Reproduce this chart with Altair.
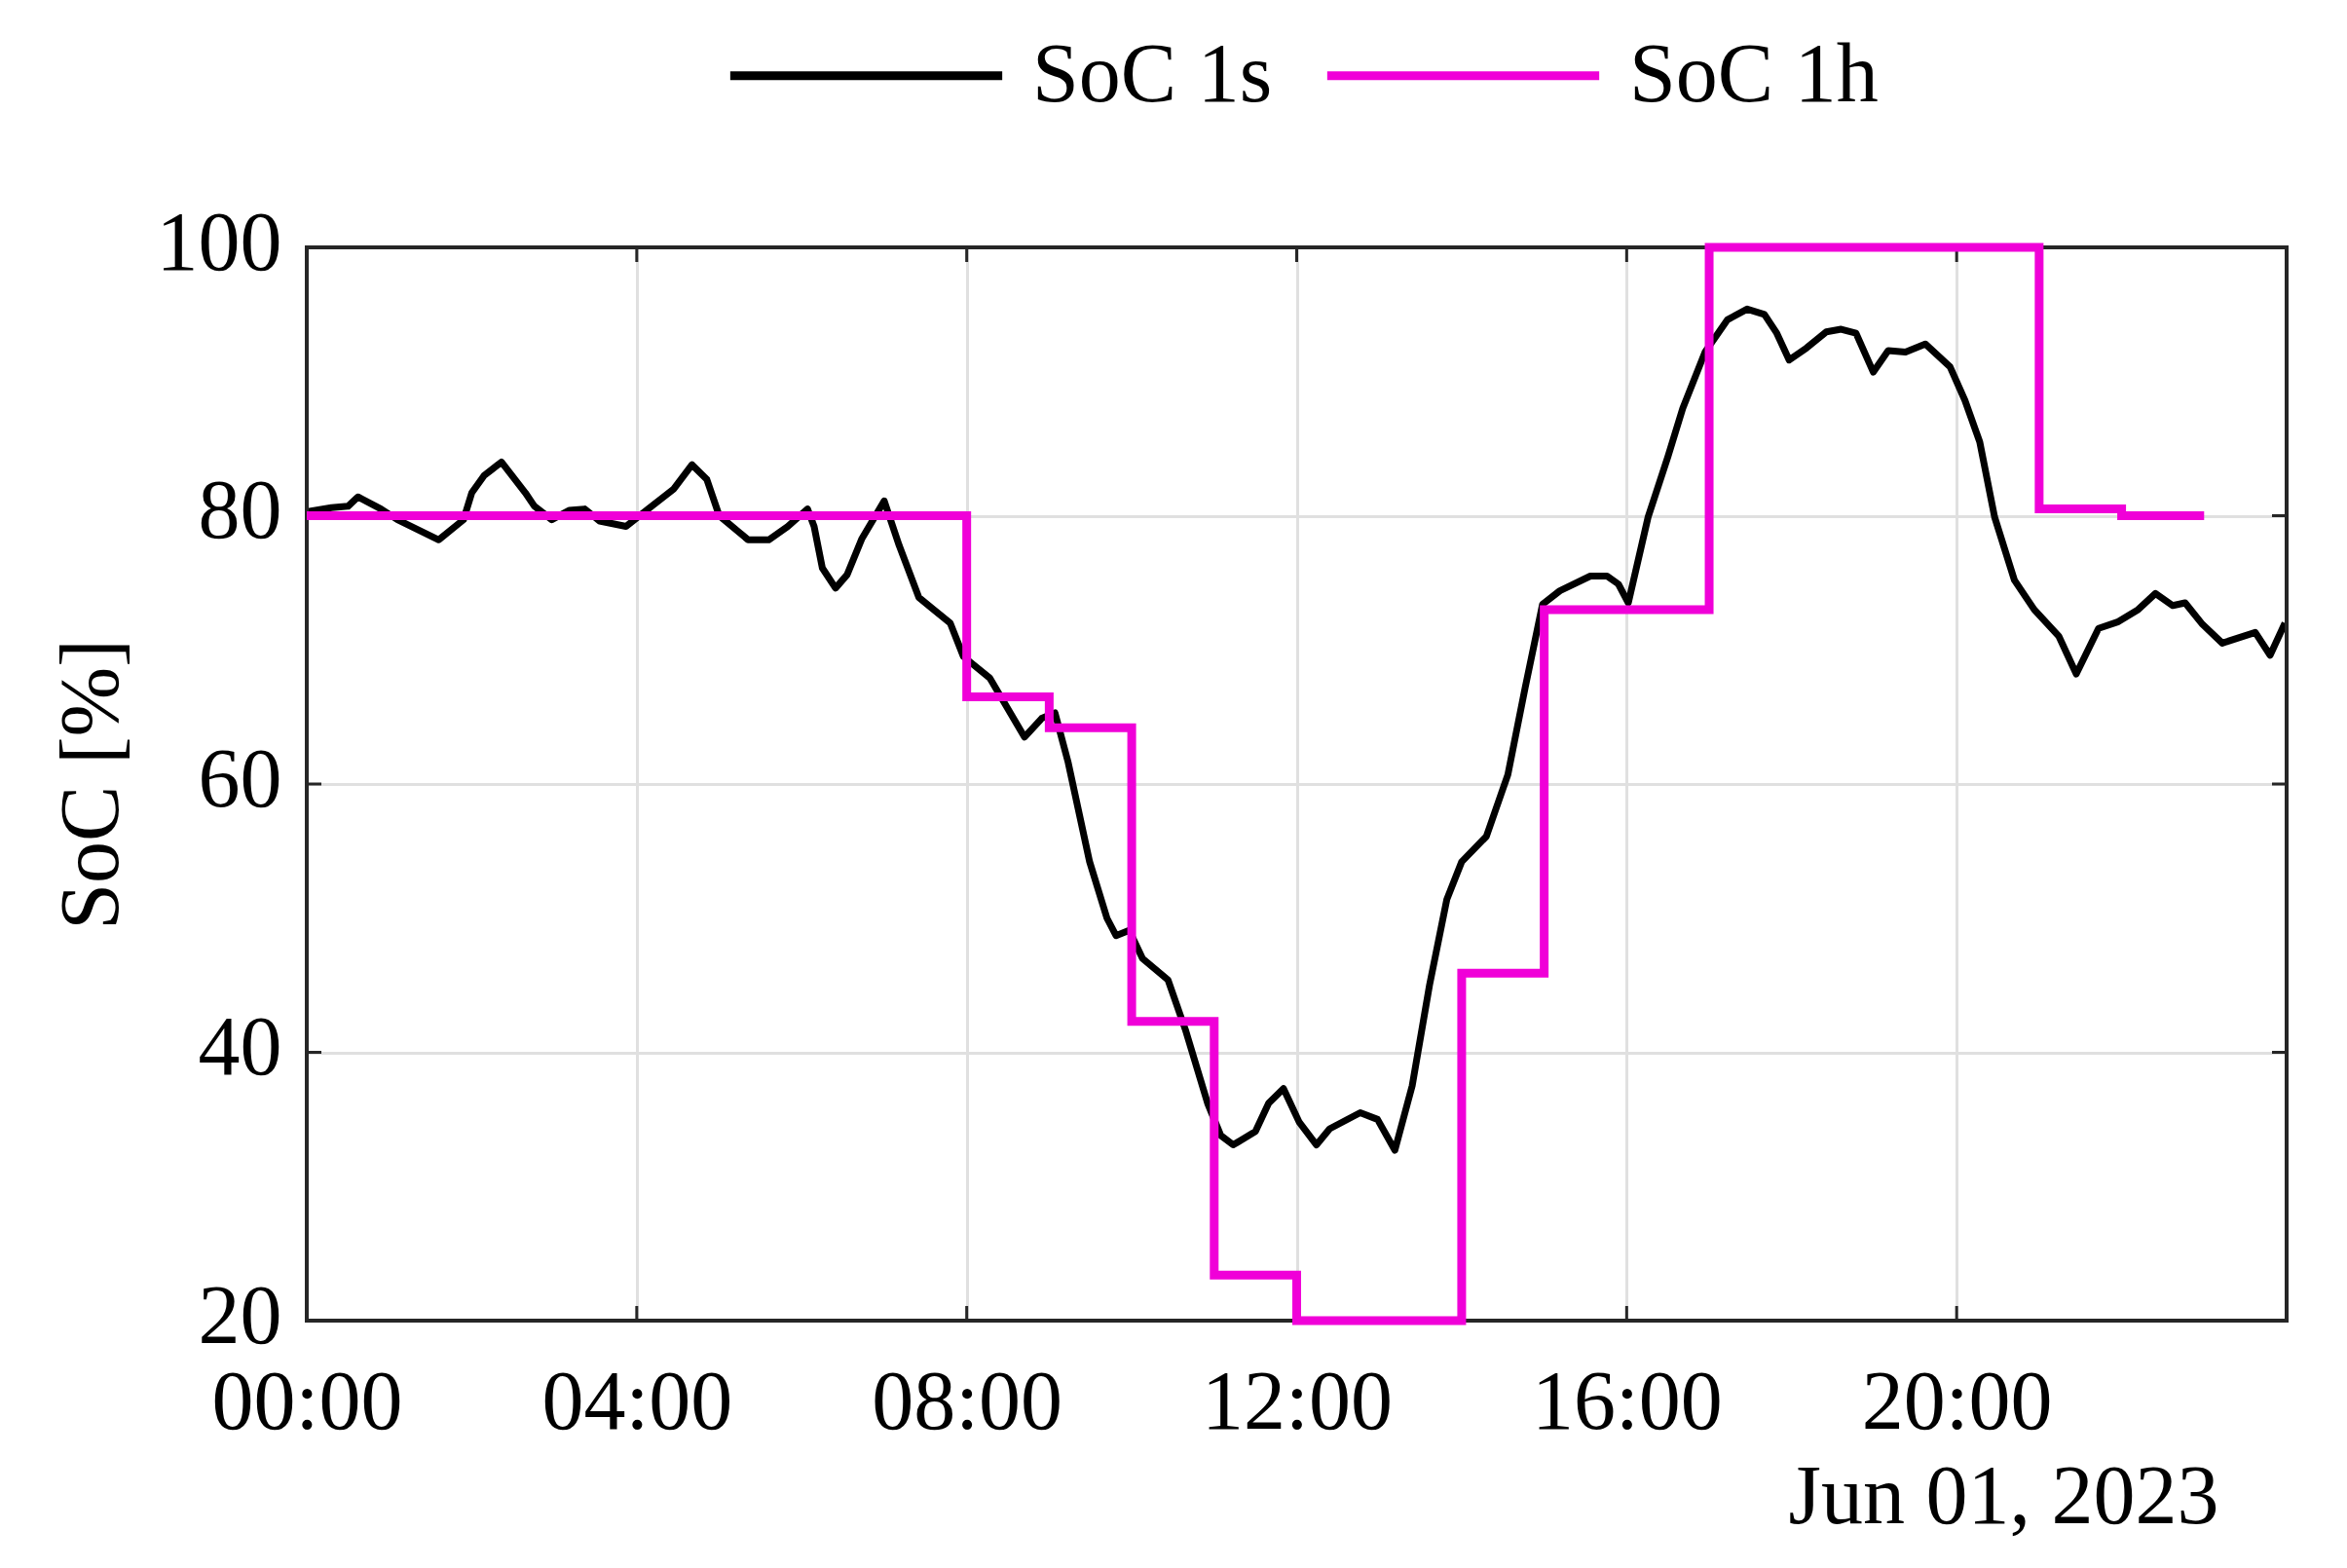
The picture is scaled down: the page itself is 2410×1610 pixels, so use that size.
import altair as alt
import pandas as pd

# SoC 1s (hours, %)
soc1s_hours = [0.0, 0.3, 0.5, 0.62, 0.9, 1.1, 1.6, 1.9, 2.0, 2.15, 2.36, 2.65, 2.76, 2.97, 3.18, 3.37,
               3.55, 3.87, 4.14, 4.45, 4.67, 4.85, 5.0, 5.35, 5.6, 5.83, 6.07, 6.15, 6.25, 6.41, 6.55,
               6.73, 7.0, 7.18, 7.42, 7.6, 7.8, 7.96, 8.28, 8.7, 8.91, 9.07, 9.23, 9.49, 9.7, 9.81,
               9.97, 10.13, 10.44, 10.65, 10.92, 11.08, 11.23, 11.5, 11.66, 11.84, 12.03, 12.24, 12.4,
               12.77, 12.98, 13.19, 13.4, 13.61, 13.82, 14.0, 14.3, 14.56, 14.77, 14.98, 15.19, 15.56,
               15.76, 15.9, 16.02, 16.26, 16.5, 16.68, 16.95, 17.22, 17.46, 17.67, 17.82, 17.97, 18.18,
               18.42, 18.6, 18.78, 18.99, 19.17, 19.38, 19.62, 19.92, 20.1, 20.28, 20.46, 20.7, 20.94,
               21.24, 21.45, 21.72, 21.96, 22.2, 22.41, 22.62, 22.77, 22.98, 23.22, 23.62, 23.8, 23.98]
soc1s_values = [80.3, 80.6, 80.7, 81.4, 80.5, 79.7, 78.2, 79.7, 81.7, 83.0, 84.0, 81.7, 80.7, 79.7, 80.4, 80.5,
                79.6, 79.2, 80.5, 82.0, 83.8, 82.7, 80.0, 78.2, 78.2, 79.2, 80.5, 79.2, 76.1, 74.6, 75.6,
                78.3, 81.1, 77.8, 73.9, 73.0, 72.0, 69.5, 67.9, 63.5, 64.9, 65.3, 61.6, 54.2, 50.0, 48.7,
                49.1, 47.0, 45.4, 41.7, 36.2, 33.8, 33.1, 34.1, 36.2, 37.3, 34.8, 33.1, 34.3,
                35.5, 35.0, 32.7, 37.5, 45.0, 51.4, 54.2, 56.1, 60.7, 67.2, 73.4, 74.4, 75.5,
                75.5, 74.9, 73.5, 79.9, 84.4, 88.0, 92.2, 94.6, 95.4, 95.0, 93.6, 91.6, 92.5,
                93.7, 93.9, 93.6, 90.7, 92.3, 92.2, 92.8, 91.1, 88.6, 85.5, 79.9, 75.2, 73.0,
                71.0, 68.2, 71.6, 72.1, 73.0, 74.2, 73.3, 73.5, 71.9, 70.5, 71.3, 69.6, 72.0]

# SoC 1h (step, hours, %)
soc1h_hours = [0, 8, 9, 10, 11, 12, 14, 15, 16, 17, 21, 22, 23]
soc1h_values = [80, 66.5, 64.2, 42.3, 23.4, 20, 45.9, 73.0, 73.0, 100, 80.5, 80.0, 80.0]

series_names = ["SoC 1s", "SoC 1h"]
series_colors = ["#000000", "#f000d8"]

x_ticks = [0, 4, 8, 12, 16, 20]
y_ticks = [20, 40, 60, 80, 100]

W, H = 2033, 1102
FONT = "Liberation Serif"
FS = 86

df1 = pd.DataFrame({"hour": soc1s_hours, "soc": soc1s_values, "series": series_names[0]})
df2 = pd.DataFrame({"hour": soc1h_hours, "soc": soc1h_values, "series": series_names[1]})
ticks_x = pd.DataFrame({"hour": x_ticks[1:]})
ticks_y = pd.DataFrame({"soc": y_ticks[1:-1]})
frame_df = pd.DataFrame({"k": [0]})

xscale = alt.Scale(domain=[0, 24], nice=False, zero=False)
yscale = alt.Scale(domain=[20, 100], nice=False, zero=False)
color = alt.Color(
    "series:N",
    scale=alt.Scale(domain=series_names, range=series_colors),
    legend=alt.Legend(
        orient="none", direction="horizontal", title=None,
        legendX=430, legendY=-321,
        symbolType="stroke", symbolSize=78000, symbolStrokeWidth=9,
        labelFont=FONT, labelFontSize=FS, labelColor="#000000",
        labelOffset=26, columnPadding=37, labelLimit=1000,
    ),
)

xaxis = alt.Axis(
    values=x_ticks, labelExpr="(datum.value < 10 ? '0' : '') + datum.value + ':00'",
    labelFont=FONT, labelFontSize=FS, labelColor="#000000", labelPadding=42,
    labelLimit=1000, labelOverlap=False, labelFlush=False,
    ticks=False, domain=False, grid=True, gridColor="#e0e0e0", gridWidth=3,
    title="Jun 01, 2023", titleFont=FONT, titleFontSize=FS, titleFontWeight="normal",
    titleColor="#000000", titleX=1963, titleY=181, titleAlign="right", titleBaseline="middle",
    titleAnchor="end", titleLimit=2000,
)
yaxis = alt.Axis(
    values=y_ticks, labelFont=FONT, labelFontSize=FS, labelColor="#000000", labelPadding=26,
    labelLimit=1000, labelOverlap=False, labelFlush=False, labelOffset=-4,
    ticks=False, domain=False, grid=True, gridColor="#e0e0e0", gridWidth=3,
    title="SoC [%]", titleFont=FONT, titleFontSize=FS, titleFontWeight="normal",
    titleColor="#000000", titleX=-221, titleY=551, titleAlign="center", titleBaseline="middle",
    titleAngle=-90, titleLimit=2000,
)

line1 = alt.Chart(df1).mark_line(strokeWidth=7, clip=False, strokeJoin="round").encode(
    x=alt.X("hour:Q", scale=xscale, axis=xaxis),
    y=alt.Y("soc:Q", scale=yscale, axis=yaxis),
    color=color,
)
line2 = alt.Chart(df2).mark_line(strokeWidth=9, interpolate="step-after", clip=False).encode(
    x=alt.X("hour:Q", scale=xscale),
    y=alt.Y("soc:Q", scale=yscale),
    color=color,
)

tick_col = "#262626"
top_ticks = alt.Chart(ticks_x).mark_rule(color=tick_col, strokeWidth=3).encode(
    x=alt.X("hour:Q", scale=xscale), y=alt.value(0), y2=alt.value(15))
bot_ticks = alt.Chart(ticks_x).mark_rule(color=tick_col, strokeWidth=3).encode(
    x=alt.X("hour:Q", scale=xscale), y=alt.value(H - 15), y2=alt.value(H))
left_ticks = alt.Chart(ticks_y).mark_rule(color=tick_col, strokeWidth=3).encode(
    y=alt.Y("soc:Q", scale=yscale), x=alt.value(0), x2=alt.value(15))
right_ticks = alt.Chart(ticks_y).mark_rule(color=tick_col, strokeWidth=3).encode(
    y=alt.Y("soc:Q", scale=yscale), x=alt.value(W - 15), x2=alt.value(W))
frame = alt.Chart(frame_df).mark_rect(fill=None, stroke=tick_col, strokeWidth=4, fillOpacity=0).encode(
    x=alt.value(0), x2=alt.value(W), y=alt.value(0), y2=alt.value(H))

chart = alt.layer(line1, top_ticks, bot_ticks, left_ticks, right_ticks, frame, line2).properties(
    width=W, height=H,
    autosize=alt.AutoSizeParams(type="none"),
    padding={"left": 307, "top": 246, "right": 50, "bottom": 240},
).configure_view(
    stroke=None,
).configure(background="#ffffff")

chart.save("out.html", embed_options={"renderer": "svg", "actions": False})
